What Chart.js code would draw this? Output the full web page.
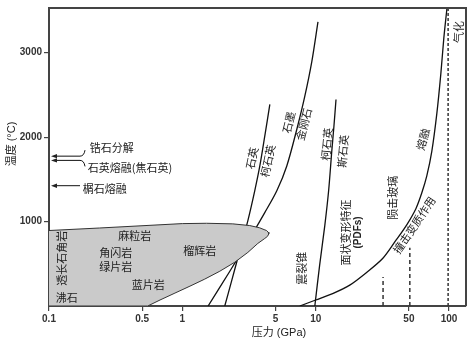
<!DOCTYPE html>
<html>
<head>
<meta charset="utf-8">
<script src="https://cdn.jsdelivr.net/npm/chart.js@4.4.1/dist/chart.umd.min.js"></script>
<style>
  html, body { margin: 0; padding: 0; background: #fff; }
  #wrap { width: 476px; height: 345px; position: relative; }
</style>
</head>
<body>
<div id="wrap"><canvas id="c"></canvas></div>
<script>
// Axis ticks
const pressureTicks = [0.1, 0.5, 1, 5, 10, 50, 100];      // GPa
const temperatureTicks = [1000, 2000, 3000];             // °C

// Metamorphic facies field (closed outline, GPa / °C)
const faciesP = [0.1, 0.24, 1.0, 1.52, 2.39, 3.2, 3.8, 4.1, 4.28, 4.4, 4.45, 4.35, 4.15, 3.68, 3.1, 2.47, 1.91, 1.47, 1.14, 0.88, 0.68, 0.55, 0.1];
const faciesT = [894, 924, 976, 980, 973, 953, 926, 905, 894, 875, 855, 825, 800, 741, 635, 518, 412, 318, 235, 153, 71, 0, 0];

// Quartz / coesite boundary
const qzCoeP = [2.08, 2.35, 2.70, 3.10, 3.49, 3.81, 4.15, 4.53];
const qzCoeT = [0, 306, 659, 1012, 1365, 1659, 2012, 2388];

// Graphite / diamond boundary
const grDiaP = [1.56, 2.27, 3.20, 4.15, 5.11, 6.07, 7.22, 8.28, 9.35, 10.4];
const grDiaT = [0, 412, 800, 1106, 1365, 1659, 2094, 2482, 2894, 3365];

// Coesite / stishovite boundary
const coeStP = [9.85, 10.7, 11.7, 12.5, 13.2, 13.7, 14.2];
const coeStT = [0, 482, 953, 1365, 1835, 2129, 2447];

// Shock metamorphism / melting curve
const shockP = [7.6, 10.0, 13.4, 18.0, 24.2, 31.9, 39.9, 48.3, 56.4, 62.5, 68.1, 74.3, 81.0, 86.8, 91.4, 96.3];
const shockT = [0, 71, 147, 247, 400, 565, 776, 965, 1153, 1341, 1541, 1835, 2282, 2753, 3176, 3518];

// Dashed pressure markers
const markerP = [32, 50.8];
const markerTopT = [345, 690];
const vaporP = 98.4;

// Temperatures pointed at from the left
const arrowT = [1775, 1725, 1425];
const arrowBend = ['up', 'down', 'none'];
const arrowNotes = [
  { text: '锆石分解', p: 0.202, t: 1871 },
  { text: '石英熔融(焦石英)', p: 0.195, t: 1635 },
  { text: '榍石熔融', p: 0.179, t: 1388 }
];

// Field and boundary labels (position in GPa / °C, rotation in degrees)
const fieldLabels = [
  { text: '麻粒岩', p: 0.44, t: 835, rot: 0 },
  { text: '角闪岩', p: 0.316, t: 635, rot: 0 },
  { text: '绿片岩', p: 0.316, t: 459, rot: 0 },
  { text: '蓝片岩', p: 0.555, t: 247, rot: 0 },
  { text: '沸石', p: 0.136, t: 94, rot: 0 },
  { text: '透长石角岩', p: 0.1245, t: 565, rot: -90 },
  { text: '榴辉岩', p: 1.35, t: 659, rot: 0 },
  { text: '震裂锥', p: 7.87, t: 447, rot: -90 },
  { text: '面状变形特征', p: 16.8, t: 871, rot: -90 },
  { text: '(PDFs)', p: 20.9, t: 871, rot: -90, latin: true },
  { text: '陨击玻璃', p: 37.9, t: 1282, rot: -90 },
  { text: '撞击变质作用', p: 54.9, t: 959, rot: -56 },
  { text: '熔融', p: 63.6, t: 1976, rot: -75 },
  { text: '气化', p: 118, t: 3247, rot: -90 },
  { text: '石英', p: 3.32, t: 1753, rot: -78 },
  { text: '柯石英', p: 4.37, t: 1718, rot: -78 },
  { text: '石墨', p: 6.28, t: 2176, rot: -76 },
  { text: '金刚石', p: 8.14, t: 2153, rot: -76 },
  { text: '柯石英', p: 12.1, t: 1918, rot: -85 },
  { text: '斯石英', p: 16.0, t: 1835, rot: -85 }
];

const CJK = '11px "Noto Sans CJK SC"';
const LATIN = '"Liberation Sans", "Noto Sans CJK SC", sans-serif';
const INK = '#222';
const AXIS = '#444';

const pts = (P, T) => P.map((p, i) => ({ x: p, y: T[i] }));
const curve = (P, T, extra) => Object.assign({
  data: pts(P, T), showLine: true, pointRadius: 0, borderColor: '#111',
  borderWidth: 1.3, tension: 0.3, fill: false
}, extra || {});

const datasets = [
  {
    data: pts(faciesP, faciesT), showLine: true, pointRadius: 0, tension: 0,
    borderColor: '#333', borderWidth: 1, backgroundColor: '#cacaca', fill: 'shape'
  },
  curve(qzCoeP, qzCoeT),
  curve(grDiaP, grDiaT),
  curve(coeStP, coeStT),
  curve(shockP, shockT),
  ...markerP.map((p, i) => curve([p, p], [0, markerTopT[i]], { borderDash: [4, 3], borderWidth: 1.5, tension: 0, borderColor: '#333' })),
  curve([vaporP, vaporP], [0, 3530], { borderDash: [3, 2], borderWidth: 1.5, tension: 0, borderColor: '#333' })
];

const annotate = {
  id: 'annotate',
  afterDatasetsDraw(chart) {
    const { ctx, chartArea: a, scales: { x, y } } = chart;
    ctx.save();

    // frame: top and right edges
    ctx.strokeStyle = AXIS;
    ctx.lineWidth = 2;
    ctx.beginPath();
    ctx.moveTo(a.left, a.top);
    ctx.lineTo(a.right, a.top);
    ctx.lineTo(a.right, a.bottom);
    ctx.stroke();

    ctx.fillStyle = INK;
    ctx.textAlign = 'center';
    ctx.textBaseline = 'middle';

    for (const l of fieldLabels) {
      ctx.save();
      ctx.translate(x.getPixelForValue(l.p), y.getPixelForValue(l.t));
      ctx.rotate(l.rot * Math.PI / 180);
      ctx.font = l.latin ? 'bold 10px ' + LATIN : CJK;
      ctx.fillText(l.text, 0, 0);
      ctx.restore();
    }

    // arrows to the temperature axis
    ctx.strokeStyle = '#111';
    ctx.lineWidth = 1;
    arrowT.forEach((t, i) => {
      const py = y.getPixelForValue(t);
      const x0 = a.left + 2, x1 = a.left + 31;
      ctx.beginPath();
      ctx.moveTo(x0 + 5, py);
      ctx.lineTo(x1, py);
      if (arrowBend[i] === 'up') ctx.quadraticCurveTo(x1 + 4, py, x1 + 5, py - 6);
      if (arrowBend[i] === 'down') ctx.quadraticCurveTo(x1 + 4, py, x1 + 5, py + 6);
      ctx.stroke();
      ctx.beginPath();
      ctx.moveTo(x0, py);
      ctx.lineTo(x0 + 6, py - 2.2);
      ctx.lineTo(x0 + 6, py + 2.2);
      ctx.closePath();
      ctx.fill();
    });
    ctx.textAlign = 'left';
    ctx.font = CJK;
    for (const n of arrowNotes) {
      ctx.fillText(n.text, x.getPixelForValue(n.p), y.getPixelForValue(n.t));
    }

    // axis titles
    ctx.textAlign = 'center';
    ctx.font = '11px ' + LATIN;
    ctx.fillText('压力 (GPa)', a.left + 230, a.bottom + 27);
    ctx.save();
    ctx.translate(12, a.top + 136);
    ctx.rotate(-Math.PI / 2);
    ctx.fillText('温度 (°C)', 0, 0);
    ctx.restore();

    ctx.restore();
  }
};

new Chart(document.getElementById('c'), {
  type: 'scatter',
  data: { datasets },
  options: {
    responsive: true,
    maintainAspectRatio: false,
    animation: false,
    layout: { padding: { top: 6, right: 10, left: 0, bottom: 0 } },
    plugins: { legend: { display: false }, tooltip: { enabled: false } },
    scales: {
      x: {
        type: 'logarithmic',
        min: 0.1,
        max: 134,
        afterBuildTicks: s => { s.ticks = pressureTicks.map(v => ({ value: v })); },
        afterFit: s => { s.height = 39; },
        ticks: {
          callback: v => String(v), autoSkip: false, maxRotation: 0, padding: 2,
          color: '#333', font: { family: LATIN, size: 10, weight: 'bold' }
        },
        grid: { drawOnChartArea: false, tickLength: 5, color: AXIS, lineWidth: 1.2 },
        border: { color: AXIS, width: 2 }
      },
      y: {
        min: 0,
        max: 3530,
        afterBuildTicks: s => { s.ticks = temperatureTicks.map(v => ({ value: v })); },
        afterFit: s => { s.width = 49; },
        ticks: {
          callback: v => String(v), padding: 2,
          color: '#333', font: { family: LATIN, size: 10, weight: 'bold' }
        },
        grid: { drawOnChartArea: false, tickLength: 5, color: AXIS, lineWidth: 1.2 },
        border: { color: AXIS, width: 2 }
      }
    }
  },
  plugins: [annotate]
});
</script>
</body>
</html>
